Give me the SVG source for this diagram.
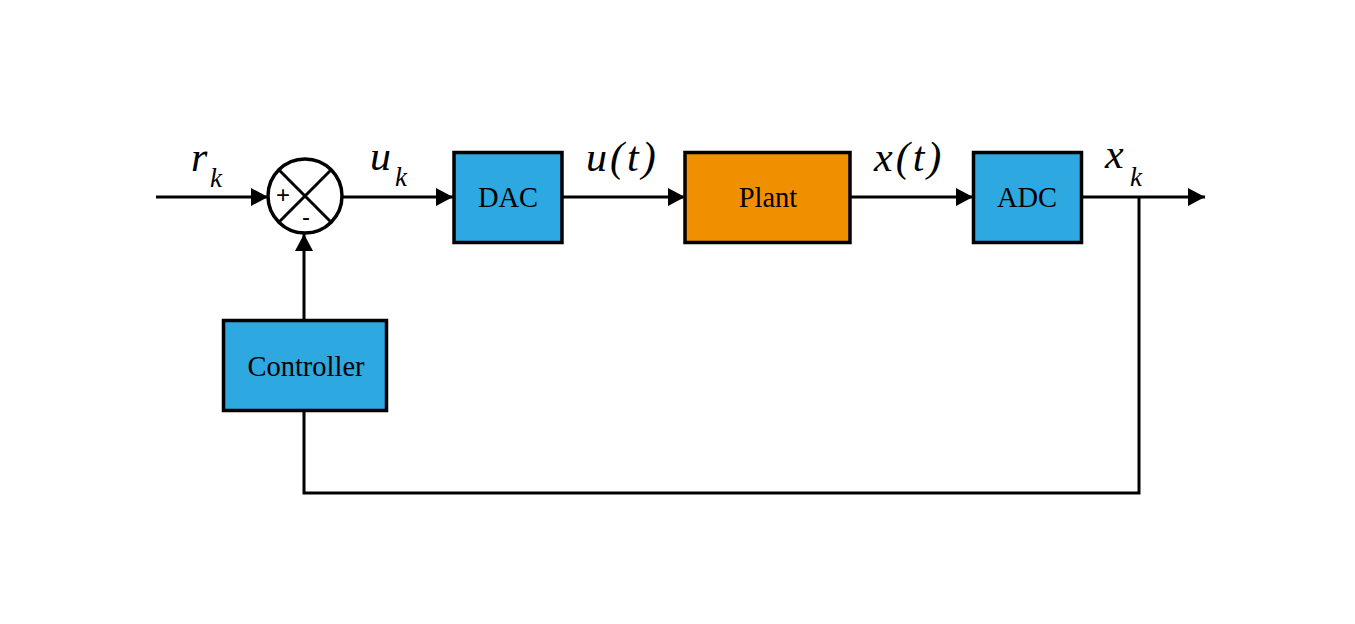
<svg xmlns="http://www.w3.org/2000/svg" width="1355" height="624" viewBox="0 0 1355 624">
  <defs>
    <marker id="arrow" markerWidth="17" markerHeight="18" refX="17" refY="9" orient="auto" markerUnits="userSpaceOnUse">
      <path d="M0,0 L17,9 L0,18 Z" fill="#000"/>
    </marker>
    <style>
      .block { stroke: #000; stroke-width: 3.5; }
      .blue { fill: #2ea8e0; }
      .orange { fill: #f09000; }
      .label { font-family: "Liberation Serif", "Times New Roman", serif; font-size: 28.5px; fill: #000; text-anchor: middle; }
      .math { font-family: "Liberation Serif", "Times New Roman", serif; font-style: italic; fill: #000; }
      .wire { fill: none; stroke: #000; stroke-width: 3; }
      .sign { font-family: "Liberation Sans", Arial, sans-serif; font-size: 24px; fill: #000; text-anchor: middle; }
    </style>
  </defs>
  <rect width="1355" height="624" fill="#fff"/>

  <g id="connectors">
    <line class="wire" x1="156" y1="197" x2="268" y2="197" marker-end="url(#arrow)"/>
    <line class="wire" x1="343" y1="197" x2="453" y2="197" marker-end="url(#arrow)"/>
    <line class="wire" x1="563" y1="197" x2="685" y2="197" marker-end="url(#arrow)"/>
    <line class="wire" x1="850" y1="197" x2="973" y2="197" marker-end="url(#arrow)"/>
    <line class="wire" x1="1083" y1="197" x2="1205" y2="197" marker-end="url(#arrow)"/>
    <polyline class="wire" points="1139,197 1139,493 304,493 304,411"/>
    <line class="wire" x1="304" y1="320" x2="304" y2="234" marker-end="url(#arrow)"/>
  </g>

  <g id="sum">
    <circle cx="305" cy="196" r="37" fill="#fff" stroke="#000" stroke-width="3.5"/>
    <line x1="278.8" y1="169.8" x2="331.2" y2="222.2" stroke="#000" stroke-width="3"/>
    <line x1="331.2" y1="169.8" x2="278.8" y2="222.2" stroke="#000" stroke-width="3"/>
    <text class="sign" x="283" y="203">+</text>
    <text class="sign" x="306" y="225">-</text>
  </g>

  <g id="dac">
    <rect class="block blue" x="454" y="152.5" width="108" height="90"/>
    <text class="label" x="508" y="207">DAC</text>
  </g>

  <g id="plant">
    <rect class="block orange" x="685" y="152.5" width="165" height="90"/>
    <text class="label" x="768" y="207">Plant</text>
  </g>

  <g id="adc">
    <rect class="block blue" x="973.5" y="152.5" width="108" height="90"/>
    <text class="label" x="1027" y="207">ADC</text>
  </g>

  <g id="controller">
    <rect class="block blue" x="223.5" y="320.5" width="163" height="90"/>
    <text class="label" x="306" y="376">Controller</text>
  </g>

  <g id="labels">
    <text class="math" x="191" y="171" font-size="42">r</text>
    <text class="math" x="210" y="187" font-size="27">k</text>
    <text class="math" x="370" y="170" font-size="42">u</text>
    <text class="math" x="395" y="186" font-size="27">k</text>
    <text class="math" x="586" y="171" font-size="42" letter-spacing="3">u(t)</text>
    <text class="math" x="874" y="171" font-size="42" letter-spacing="3">x(t)</text>
    <text class="math" x="1105" y="168" font-size="42">x</text>
    <text class="math" x="1130" y="186" font-size="27">k</text>
  </g>
</svg>
